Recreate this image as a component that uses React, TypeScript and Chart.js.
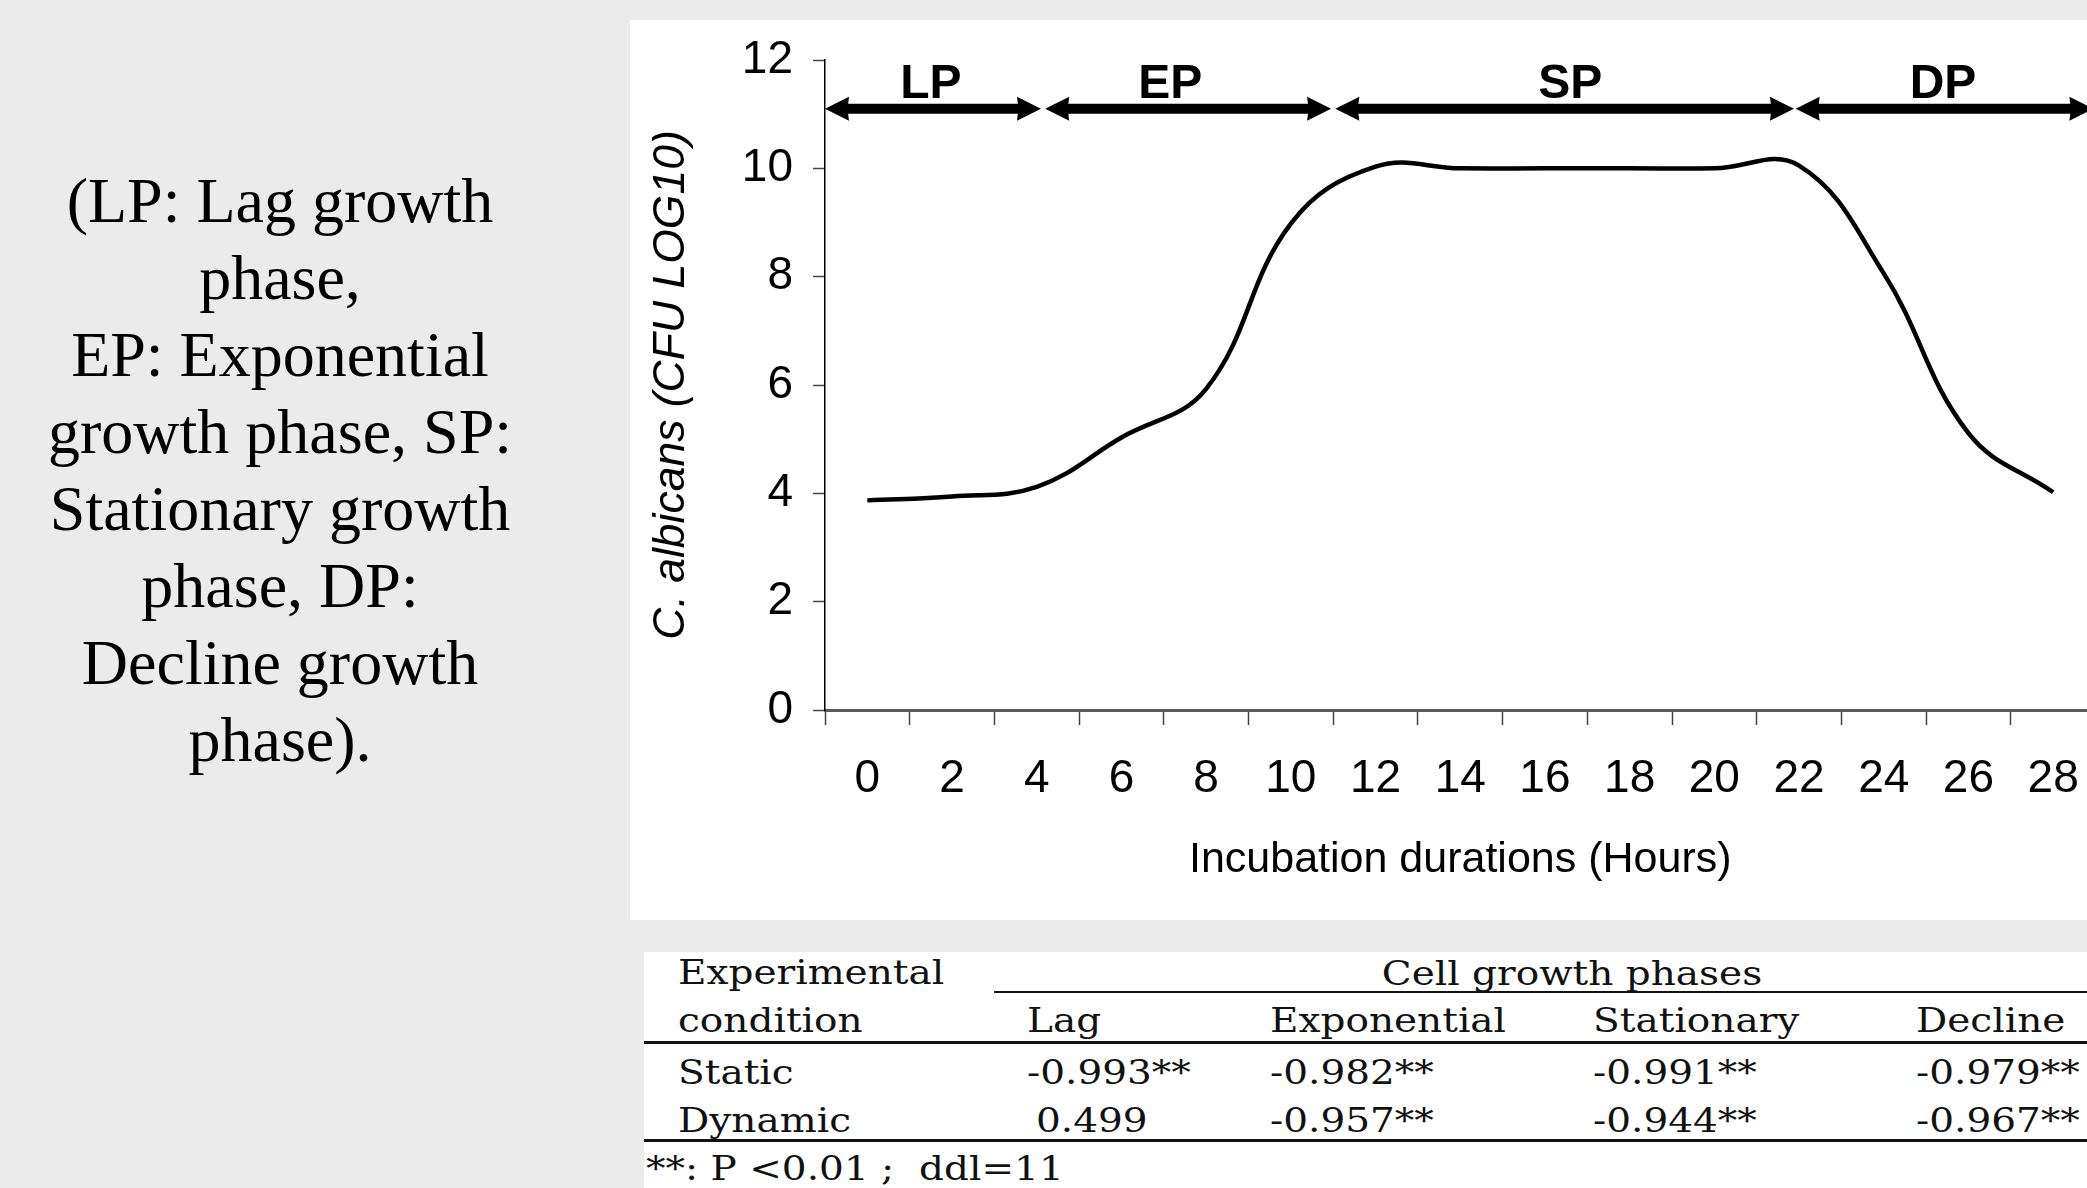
import React, { useEffect, useRef } from 'react';
import { Chart, registerables } from 'chart.js';

Chart.register(...registerables);

// ---------------- data ----------------
const hourLabels = ['0', '2', '4', '6', '8', '10', '12', '14', '16', '18', '20', '22', '24', '26', '28'];
const cfuLog10 = [3.87, 3.94, 4.12, 5.03, 5.93, 8.98, 10.03, 10.0, 10.0, 10.0, 10.0, 10.05, 8.06, 5.11, 4.02];
const yTickValues = [0, 2, 4, 6, 8, 10, 12];
const hourStep = 2;

const phaseNames = ['LP', 'EP', 'SP', 'DP'];
const phaseStartHour = [-1.0, 4.2, 11.05, 21.92];
const phaseEndHour = [4.1, 10.95, 21.88, 28.95];
const phaseLabelHour = [1.5, 7.15, 16.6, 25.4];
const phaseArrowLevel = 11.1;
const phaseLabelLevel = 11.29;

const captionLines = [
  '(LP: Lag growth',
  'phase,',
  'EP: Exponential',
  'growth phase, SP:',
  'Stationary growth',
  'phase, DP:',
  'Decline growth',
  'phase).',
];

const tableConditionHeader = ['Experimental', 'condition'];
const tableGroupHeader = 'Cell growth phases';
const tablePhases = ['Lag', 'Exponential', 'Stationary', 'Decline'];
const tableConditions = ['Static', 'Dynamic'];
const staticCorrelations = ['-0.993**', '-0.982**', '-0.991**', '-0.979**'];
const dynamicCorrelations = ['0.499', '-0.957**', '-0.944**', '-0.967**'];
const tableFootnote = '**: P <0.01 ;  ddl=11';

// ---------------- styling ----------------
const SANS = "'Liberation Sans', Arial, sans-serif";
const SERIF_TNR = "'Liberation Serif', 'Times New Roman', serif";
const SERIF_TAB = "'DejaVu Serif', serif";
const BG = '#ebebeb';

function drawDoubleArrow(ctx: CanvasRenderingContext2D, x1: number, x2: number, y: number) {
  const shaft = 10;
  const headLen = 24;
  const headHalf = 12;
  ctx.fillRect(x1 + 12, y - shaft / 2, x2 - x1 - 24, shaft);
  ctx.beginPath();
  ctx.moveTo(x1, y);
  ctx.lineTo(x1 + headLen, y - headHalf);
  ctx.lineTo(x1 + headLen - 1.5, y);
  ctx.lineTo(x1 + headLen, y + headHalf);
  ctx.closePath();
  ctx.fill();
  ctx.beginPath();
  ctx.moveTo(x2, y);
  ctx.lineTo(x2 - headLen, y - headHalf);
  ctx.lineTo(x2 - headLen + 1.5, y);
  ctx.lineTo(x2 - headLen, y + headHalf);
  ctx.closePath();
  ctx.fill();
}

const phasePlugin = {
  id: 'phaseArrows',
  afterDraw(chart: any) {
    const { ctx } = chart;
    const xs = chart.scales.x;
    const ys = chart.scales.y;
    ctx.save();
    ctx.fillStyle = '#000';
    const yArrow = ys.getPixelForValue(phaseArrowLevel);
    const yLabel = ys.getPixelForValue(phaseLabelLevel);
    ctx.font = `bold 48px ${SANS}`;
    ctx.textAlign = 'center';
    ctx.textBaseline = 'alphabetic';
    phaseNames.forEach((name, i) => {
      const x1 = xs.getPixelForValue(phaseStartHour[i] / hourStep);
      const x2 = xs.getPixelForValue(phaseEndHour[i] / hourStep);
      drawDoubleArrow(ctx, x1, x2, yArrow);
      ctx.fillText(name, xs.getPixelForValue(phaseLabelHour[i] / hourStep), yLabel);
    });
    ctx.restore();
  },
};

function GrowthChart() {
  const ref = useRef<HTMLCanvasElement | null>(null);
  useEffect(() => {
    if (!ref.current) return;
    const chart = new Chart(ref.current, {
      type: 'line',
      data: {
        labels: hourLabels,
        datasets: [
          {
            data: cfuLog10,
            borderColor: '#000',
            borderWidth: 4.5,
            pointRadius: 0,
            tension: 0.4,
            fill: false,
          },
        ],
      },
      options: {
        animation: false,
        responsive: false,
        devicePixelRatio: 1,
        layout: { padding: { left: 0, right: 14.5, top: 40, bottom: 0 } },
        plugins: { legend: { display: false }, tooltip: { enabled: false } },
        scales: {
          x: {
            type: 'category',
            offset: true,
            grid: {
              offset: true,
              drawOnChartArea: false,
              drawTicks: true,
              tickLength: 15,
              tickColor: '#444',
              tickWidth: 1.5,
            },
            border: { display: true, color: '#5a5a5a', width: 3 },
            ticks: {
              color: '#000',
              font: { family: SANS, size: 46 },
              padding: 27,
              maxRotation: 0,
              autoSkip: false,
            },
            title: {
              display: true,
              text: 'Incubation durations (Hours)',
              color: '#000',
              font: { family: SANS, size: 43 },
              padding: { top: 0, bottom: 34 },
            },
            afterFit: (s: any) => {
              s.height = 210;
            },
          },
          y: {
            min: 0,
            max: 12,
            grid: {
              drawOnChartArea: false,
              drawTicks: true,
              tickLength: 12,
              tickColor: '#444',
              tickWidth: 1.5,
            },
            border: { display: true, color: '#000', width: 1.5 },
            afterBuildTicks: (s: any) => {
              s.ticks = yTickValues.map((v) => ({ value: v }));
            },
            ticks: {
              color: '#000',
              font: { family: SANS, size: 46 },
              padding: 20,
            },
            title: {
              display: true,
              text: 'C. albicans (CFU LOG10)',
              color: '#000',
              font: { family: SANS, size: 44.5, style: 'italic' },
              padding: { top: 15, bottom: 0 },
            },
            afterFit: (s: any) => {
              s.width = 195;
              s.paddingTop = 0;
              s.paddingBottom = 0;
            },
          },
        },
      },
      plugins: [phasePlugin],
    } as any);
    return () => chart.destroy();
  }, []);
  return (
    <canvas
      ref={ref}
      width={1480}
      height={900}
      style={{ width: 1480, height: 900, display: 'block' }}
    />
  );
}

const TAB_FS = 39;
const BASE_OFF = 33; // baseline offset from top for DejaVu Serif at 39px, line-height 1

function TText(props: { x: number; baseline: number; text: string; center?: boolean }) {
  const { x, baseline, text, center } = props;
  return (
    <div
      style={{
        position: 'absolute',
        left: center ? x - 400 : x,
        width: center ? 800 : undefined,
        top: baseline - BASE_OFF,
        fontFamily: SERIF_TAB,
        fontSize: TAB_FS,
        lineHeight: `${TAB_FS}px`,
        whiteSpace: 'pre',
        textAlign: center ? 'center' : 'left',
        color: '#111',
        transform: 'scaleY(0.84)',
        transformOrigin: `0 ${BASE_OFF}px`,
      }}
    >
      {text}
    </div>
  );
}

function CorrTable() {
  const colX = [383, 626, 949, 1272];
  const rowBase = [131.5, 180];
  const rows = [staticCorrelations, dynamicCorrelations];
  return (
    <div
      style={{
        position: 'absolute',
        left: 644,
        top: 952,
        width: 2087 - 644,
        height: 1188 - 952,
        background: '#fff',
        overflow: 'hidden',
      }}
    >
      <TText x={34} baseline={31.5} text={tableConditionHeader[0]} />
      <TText x={34} baseline={80} text={tableConditionHeader[1]} />
      <TText x={928} baseline={33} text={tableGroupHeader} center />
      <div style={{ position: 'absolute', left: 350, right: 0, top: 38.5, height: 2.7, background: '#111' }} />
      {tablePhases.map((p, i) => (
        <TText key={p} x={colX[i]} baseline={80} text={p} />
      ))}
      <div style={{ position: 'absolute', left: 0, right: 0, top: 88.5, height: 3.2, background: '#111' }} />
      {tableConditions.map((c, r) => (
        <React.Fragment key={c}>
          <TText x={34} baseline={rowBase[r]} text={c} />
          {rows[r].map((v, i) => (
            <TText
              key={i}
              x={colX[i] + (v.startsWith('-') ? 0 : 9)}
              baseline={rowBase[r]}
              text={v}
            />
          ))}
        </React.Fragment>
      ))}
      <div style={{ position: 'absolute', left: 0, right: 0, top: 186.5, height: 3.2, background: '#111' }} />
      <TText x={2} baseline={228} text={tableFootnote} />
    </div>
  );
}

export default function App() {
  return (
    <div
      style={{
        position: 'fixed',
        left: 0,
        top: 0,
        width: 2087,
        height: 1188,
        background: BG,
        overflow: 'hidden',
      }}
    >
      <div
        style={{
          position: 'absolute',
          left: 0,
          top: 162,
          width: 560,
          textAlign: 'center',
          fontFamily: SERIF_TNR,
          fontSize: 64,
          lineHeight: '77px',
          color: '#000',
        }}
      >
        {captionLines.map((l, i) => (
          <div key={i} style={{ whiteSpace: 'nowrap' }}>
            {l}
          </div>
        ))}
      </div>
      <div
        style={{
          position: 'absolute',
          left: 630,
          top: 20,
          width: 2087 - 630,
          height: 900,
          background: '#fff',
          overflow: 'hidden',
        }}
      >
        <GrowthChart />
      </div>
      <CorrTable />
    </div>
  );
}
